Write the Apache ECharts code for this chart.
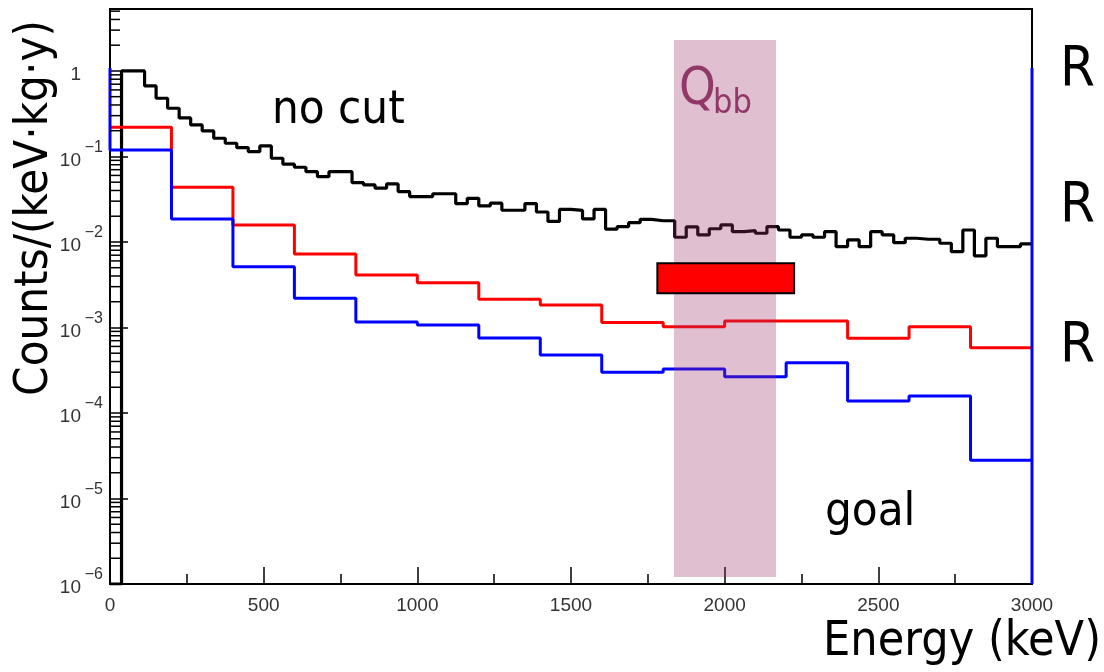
<!DOCTYPE html>
<html>
<head>
<meta charset="utf-8">
<script src="https://cdn.jsdelivr.net/npm/echarts@6/dist/echarts.min.js"></script>
<style>
  html, body { margin: 0; height: 100%; background: #fff; }
  #main { width: 1104px; height: 672px; }
</style>
</head>
<body>
<div id="main"></div>
<script>
// histogram contents, counts/(keV kg y)
const blackBinWidth = 37.5;   // keV, 80 bins
const blackVals = [
  1e-6, 1.0, 1.0, 0.668, 0.479, 0.366, 0.282, 0.2335, 0.1987, 0.1633,
  0.1427, 0.1267, 0.1138, 0.1327, 0.0953, 0.0811, 0.0748, 0.0664, 0.0580, 0.0664,
  0.0664, 0.0494, 0.0464, 0.0425, 0.0477, 0.0388, 0.0339, 0.0339, 0.0366, 0.0366,
  0.0280, 0.0324, 0.0264, 0.0284, 0.0235, 0.0235, 0.0281, 0.0224, 0.0174, 0.0240,
  0.0234, 0.0186, 0.0240, 0.0141, 0.0151, 0.0168, 0.0184, 0.0177, 0.0177, 0.01135,
  0.0150, 0.01208, 0.01427, 0.0158, 0.0132, 0.01356, 0.01264, 0.0151, 0.0138, 0.01135,
  0.01208, 0.01135, 0.0132, 0.00881, 0.01055, 0.00881, 0.0132, 0.01208, 0.00981, 0.01105,
  0.01075, 0.01075, 0.00966, 0.0077, 0.0138, 0.00686, 0.01105, 0.00881, 0.00881, 0.00948
];
const cutBinWidth = 200;      // keV, 15 bins
const redVals = [
  0.220, 0.0436, 0.0158, 0.00724, 0.00411, 0.00334, 0.00214, 0.00183,
  0.00114, 0.00102, 0.00119, 0.00119, 0.000748, 0.00102, 0.000581
];
const blueVals = [
  0.119, 0.0186, 0.00514, 0.00220, 0.00116, 0.00107, 0.000754, 0.000477,
  0.000299, 0.000327, 0.000266, 0.000387, 0.000138, 0.000158, 0.000028
];
const blueEdgeTop = 1.08;     // blue frame edge lines
const qbbBand = [1835, 2167, 1.21e-6, 2.3];
const goalBox = [1781, 2226, 0.00251, 0.00563];
const yMin = 1e-6, yMax = 5.3;

function steps(vals, w) {
  const pts = vals.map((v, i) => [i * w, v]);
  pts.push([vals.length * w, vals[vals.length - 1]]);
  return pts;
}

const bluePts = [[0, blueEdgeTop]].concat(steps(blueVals, cutBinWidth));
bluePts.push([3000, blueEdgeTop], [3000, yMin]);

// ROOT-style minor ticks at 2..9 x 10^k
const minorY = [];
for (let k = -6; k <= 0; k++) {
  for (let m = 2; m <= 9; m++) {
    const v = m * Math.pow(10, k);
    if (v < yMax) minorY.push([0, v]);
  }
}

const chart = echarts.init(document.getElementById('main'));
const labelFont = "'Liberation Sans Narrow', 'Liberation Sans', sans-serif";
const bigFont = "'DejaVu Sans Condensed', 'DejaVu Sans', sans-serif";

function rectItem(params, api) {
  const p0 = api.coord([api.value(0), api.value(3)]);
  const p1 = api.coord([api.value(1), api.value(2)]);
  return { x: p0[0], y: p0[1], width: p1[0] - p0[0], height: p1[1] - p0[1] };
}

chart.setOption({
  animation: false,
  backgroundColor: '#fff',
  grid: { left: 110, right: 72, top: 9, bottom: 88, show: true, borderColor: '#000', borderWidth: 2 },
  xAxis: {
    type: 'value', min: 0, max: 3000, interval: 500,
    axisLine: { lineStyle: { color: '#000', width: 2 } },
    axisTick: { inside: true, length: 17, lineStyle: { color: '#000', width: 1.5 } },
    minorTick: { show: true, splitNumber: 2, length: 10, lineStyle: { color: '#000', width: 1.5 } },
    splitLine: { show: false },
    axisLabel: { margin: 12, fontSize: 19, color: '#333', fontFamily: labelFont,
      formatter: function (v) { return String(v); } }
  },
  yAxis: {
    type: 'log', logBase: 10, min: yMin, max: yMax, splitNumber: 7,
    axisLine: { lineStyle: { color: '#000', width: 2 } },
    axisTick: { inside: true, length: 18, lineStyle: { color: '#000', width: 1.5 } },
    splitLine: { show: false },
    axisLabel: {
      margin: 7, showMaxLabel: false,
      formatter: function (v) {
        const e = Math.log10(v);
        if (Math.abs(e - Math.round(e)) > 1e-6) return '';
        const k = Math.round(e);
        if (k === 0) return '{b|1}{s|}';
        return '{b|10}{s|\u2212' + (-k) + '}';
      },
      rich: {
        b: { fontSize: 19, color: '#333', fontFamily: labelFont, padding: [8, 0, 0, 0] },
        s: { fontSize: 16, color: '#333', fontFamily: labelFont, width: 22, padding: [0, 0, 18, 0] }
      }
    }
  },
  series: [
    { type: 'line', step: 'end', symbol: 'none', data: steps(blackVals, blackBinWidth),
      lineStyle: { color: '#000', width: 3.2 }, z: 3 },
    { type: 'line', step: 'end', symbol: 'none', data: steps(redVals, cutBinWidth),
      lineStyle: { color: '#ff0000', width: 3 }, z: 3 },
    { type: 'line', step: 'end', symbol: 'none', data: bluePts,
      lineStyle: { color: '#0000ff', width: 3 }, z: 3 },
    { type: 'custom', data: minorY, z: 4, silent: true,
      renderItem: function (params, api) {
        const y = api.coord([0, api.value(1)])[1];
        const x0 = params.coordSys.x;
        return { type: 'line', shape: { x1: x0, y1: y, x2: x0 + 10, y2: y },
          style: { stroke: '#000', lineWidth: 1.5 } };
      } },
    { type: 'custom', data: [qbbBand], encode: { x: [0, 1], y: [2, 3] }, z: 5,
      renderItem: function (params, api) {
        return { type: 'rect', shape: rectItem(params, api),
          style: { fill: 'rgba(155,52,103,0.31)' } };
      } },
    { type: 'custom', data: [goalBox], encode: { x: [0, 1], y: [2, 3] }, z: 6,
      renderItem: function (params, api) {
        return { type: 'rect', shape: rectItem(params, api),
          style: { fill: '#ff0000', stroke: '#000', lineWidth: 2 } };
      } }
  ],
  graphic: [
    { type: 'text', x: 35, y: 208, rotation: Math.PI / 2,
      style: { text: 'Counts/(keV\u00b7kg\u00b7y)', font: '47px ' + bigFont, fill: '#000',
        align: 'center', verticalAlign: 'middle' } },
    { type: 'text', x: 1101, y: 643,
      style: { text: 'Energy (keV)', font: '48px ' + bigFont, fill: '#000',
        align: 'right', verticalAlign: 'middle' } },
    { type: 'text', x: 272, y: 111,
      style: { text: 'no cut', font: '47px ' + bigFont, fill: '#000', verticalAlign: 'middle' } },
    { type: 'text', x: 825, y: 513,
      style: { text: 'goal', font: '47px ' + bigFont, fill: '#000', verticalAlign: 'middle' } },
    { type: 'text', x: 679, y: 90,
      style: { text: 'Q', font: '52px ' + bigFont, fill: '#8e3a6a', verticalAlign: 'middle' } },
    { type: 'text', x: 713, y: 104,
      style: { text: 'bb', font: '34px ' + bigFont, fill: '#8e3a6a', verticalAlign: 'middle' } },
    { type: 'text', x: 1060, y: 70,
      style: { text: 'R', font: '56px ' + bigFont, fill: '#000', verticalAlign: 'middle' } },
    { type: 'text', x: 1060, y: 206,
      style: { text: 'R', font: '56px ' + bigFont, fill: '#000', verticalAlign: 'middle' } },
    { type: 'text', x: 1060, y: 346,
      style: { text: 'R', font: '56px ' + bigFont, fill: '#000', verticalAlign: 'middle' } }
  ]
});
</script>
</body>
</html>
